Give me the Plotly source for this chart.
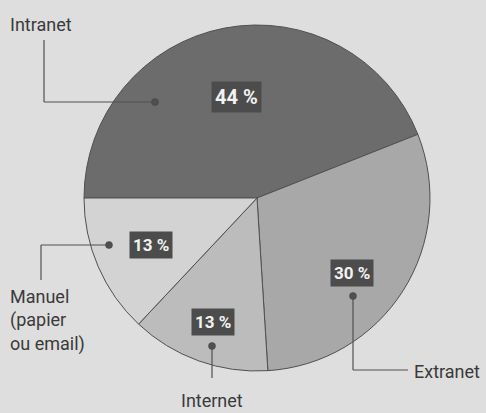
import plotly.graph_objects as go

categories = ["Intranet", "Extranet", "Internet", "Manuel (papier ou email)"]
values = [44, 30, 13, 13]
colors = ["#6c6c6c", "#a8a8a8", "#bcbcbc", "#d3d3d3"]
pct_labels = [f"{v} %" for v in values]
cat_texts = ["Intranet", "Extranet", "Internet", "Manuel<br>(papier<br>ou email)"]

W, H = 486, 413
def px(x): return x / W
def py(y): return 1 - y / H

cx, cy, r = 257, 198, 173

fig = go.Figure(go.Pie(
    labels=categories, values=values, sort=False, direction="clockwise",
    rotation=270, textinfo="none", hoverinfo="label+percent",
    marker=dict(colors=colors, line=dict(color="#505050", width=1)),
    domain=dict(x=[px(cx - r), px(cx + r)], y=[py(cy + r), py(cy - r)]),
    showlegend=False,
))

# layout positions for labels (pixel coords)
pct_pos = [(236, 97), (352, 273), (213, 322), (151, 245)]
pct_size = [20, 17, 17, 17]
dot_pos = [(155, 102), (353, 296), (212, 346), (109, 245)]
leader_paths = [
    [(155, 102), (44, 102), (44, 40)],
    [(353, 296), (353, 370), (408, 370)],
    [(212, 346), (212, 378)],
    [(109, 245), (41, 245), (41, 280)],
]
cat_pos = [(8, 25, "left"), (412, 371, "left"), (212, 400, "center"), (8, 320, "left")]

shapes = []
for path in leader_paths:
    for (x0, y0), (x1, y1) in zip(path[:-1], path[1:]):
        shapes.append(dict(type="line", xref="paper", yref="paper",
                           x0=px(x0), y0=py(y0), x1=px(x1), y1=py(y1),
                           line=dict(color="#505050", width=1.2)))
for (x, y) in dot_pos:
    shapes.append(dict(type="circle", xref="paper", yref="paper",
                       x0=px(x - 3.5), x1=px(x + 3.5), y0=py(y + 3.5), y1=py(y - 3.5),
                       fillcolor="#505050", line=dict(color="#404040", width=0.5)))

annotations = []
for t, (x, y), s in zip(pct_labels, pct_pos, pct_size):
    annotations.append(dict(text=f"<b>{t}</b>", x=px(x), y=py(y), xref="paper", yref="paper",
                            xanchor="center", yanchor="middle",
                            showarrow=False, bgcolor="#4c4c4c", borderpad=3,
                            font=dict(family="Roboto", size=s, color="#f2f2f2")))
for t, (x, y, al) in zip(cat_texts, cat_pos):
    xa = "left" if al == "left" else "center"
    annotations.append(dict(text=t, x=px(x), y=py(y), xref="paper", yref="paper",
                            showarrow=False, xanchor=xa, yanchor="middle", align="left",
                            font=dict(family="Roboto", size=18, color="#3a3a3a")))

fig.update_layout(width=W, height=H, margin=dict(l=0, r=0, t=0, b=0),
                  paper_bgcolor="#dedede", plot_bgcolor="#dedede",
                  shapes=shapes, annotations=annotations)
fig.write_html("out.html", config={"displayModeBar": False},
               post_script="document.body.style.margin='0';")
